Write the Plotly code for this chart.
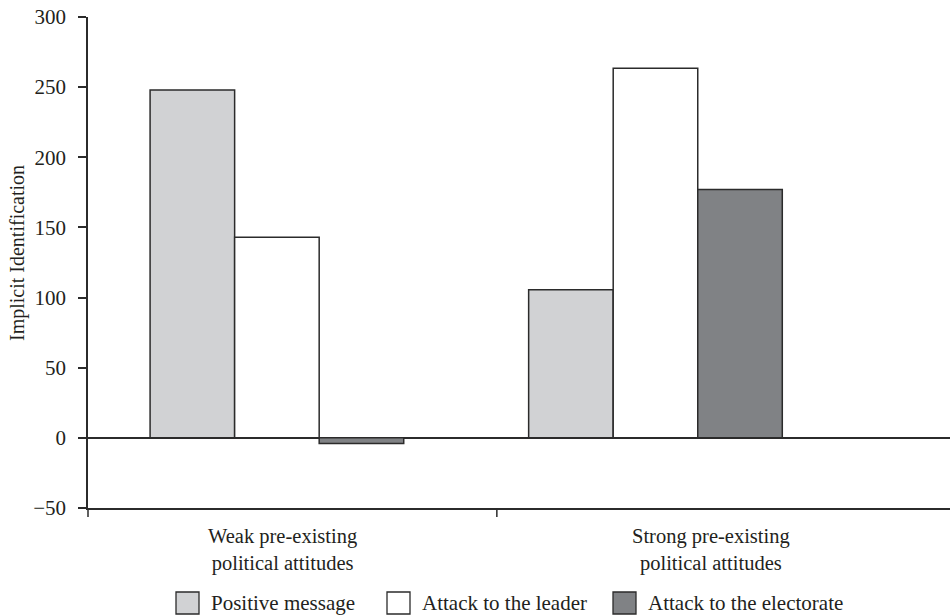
import plotly.graph_objects as go

# ---- data ----
categories = ["Weak pre-existing<br>political attitudes",
              "Strong pre-existing<br>political attitudes"]
series_names = ["Positive message", "Attack to the leader", "Attack to the electorate"]
positive_message = [248, 105.5]
attack_leader = [143, 263.5]
attack_electorate = [-4, 177]
y_ticks = [-50, 0, 50, 100, 150, 200, 250, 300]
y_tick_labels = ["\u221250", "0", "50", "100", "150", "200", "250", "300"]
y_title = "Implicit Identification"

series_values = [positive_message, attack_leader, attack_electorate]
series_colors = ["#d1d2d4", "#ffffff", "#808285"]

FONT = "Liberation Serif"
TXT = "#231f20"
LINE = "#2b2b2b"

fig = go.Figure()
for name, vals, col in zip(series_names, series_values, series_colors):
    fig.add_trace(go.Bar(
        x=categories, y=vals, name=name, showlegend=False,
        marker=dict(color=col, line=dict(color=LINE, width=1.5)),
    ))

W, H = 950, 616
L, T, B = 88, 17, 108
PW = W - L
PH = H - T - B

def px(xp):
    return (xp - L) / PW

def py(yp):
    return (H - B - yp) / PH

shapes = []
annotations = []

# custom legend (larger swatches like the reference)
sq_left = [176, 387, 613]
for name, col, xl in zip(series_names, series_colors, sq_left):
    shapes.append(dict(type="rect", xref="paper", yref="paper",
                       x0=px(xl), x1=px(xl + 23), y0=py(614), y1=py(592),
                       fillcolor=col, line=dict(color=LINE, width=1.3)))
    annotations.append(dict(text=name, xref="paper", yref="paper",
                            x=px(xl + 33), y=py(603), xanchor="left", yanchor="middle",
                            showarrow=False, font=dict(family=FONT, size=21, color=TXT)))

# category labels
for cat, shift in zip(categories, [6, 56]):
    annotations.append(dict(text=cat, x=cat, xref="x", y=0, yref="paper",
                            xanchor="center", yanchor="top", yshift=-15, xshift=shift,
                            showarrow=False, align="center",
                            font=dict(family=FONT, size=20.5, color=TXT)))

# y title
annotations.append(dict(text=y_title, xref="paper", yref="paper",
                        x=px(18), y=py(253), textangle=-90,
                        xanchor="center", yanchor="middle", showarrow=False,
                        font=dict(family=FONT, size=20, color=TXT)))

# bottom ticks (axis corner and divider between groups)
tick_len = 9 / PH
shapes.append(dict(type="line", xref="paper", yref="paper", x0=0, x1=0,
                   y0=0, y1=-tick_len, line=dict(color=LINE, width=1.5)))
shapes.append(dict(type="line", xref="x", yref="paper", x0=0.581, x1=0.581,
                   y0=0, y1=-tick_len, line=dict(color=LINE, width=1.5)))

fig.update_layout(
    width=W, height=H,
    margin=dict(l=L, r=0, t=T, b=B),
    paper_bgcolor="white", plot_bgcolor="white",
    barmode="group", bargap=0.33, bargroupgap=0,
    font=dict(family=FONT, size=20, color=TXT),
    shapes=shapes, annotations=annotations,
    xaxis=dict(range=[-0.499, 1.778], showticklabels=False, ticks="",
               showgrid=False, zeroline=False, showline=True,
               linecolor=LINE, linewidth=1.5, fixedrange=True),
    yaxis=dict(range=[-50, 300], tickvals=y_ticks, ticktext=y_tick_labels,
               ticks="outside", ticklen=8, tickwidth=1.5, tickcolor=LINE,
               showgrid=False, zeroline=True, zerolinecolor=LINE, zerolinewidth=1.5,
               showline=True, linecolor=LINE, linewidth=1.5,
               ticklabelstandoff=8,
               tickfont=dict(family=FONT, size=21, color=TXT), fixedrange=True),
)

fig.write_html(
    "out.html",
    config={"displayModeBar": False},
    post_script="document.body.style.margin='0';document.body.style.overflow='hidden';",
)
